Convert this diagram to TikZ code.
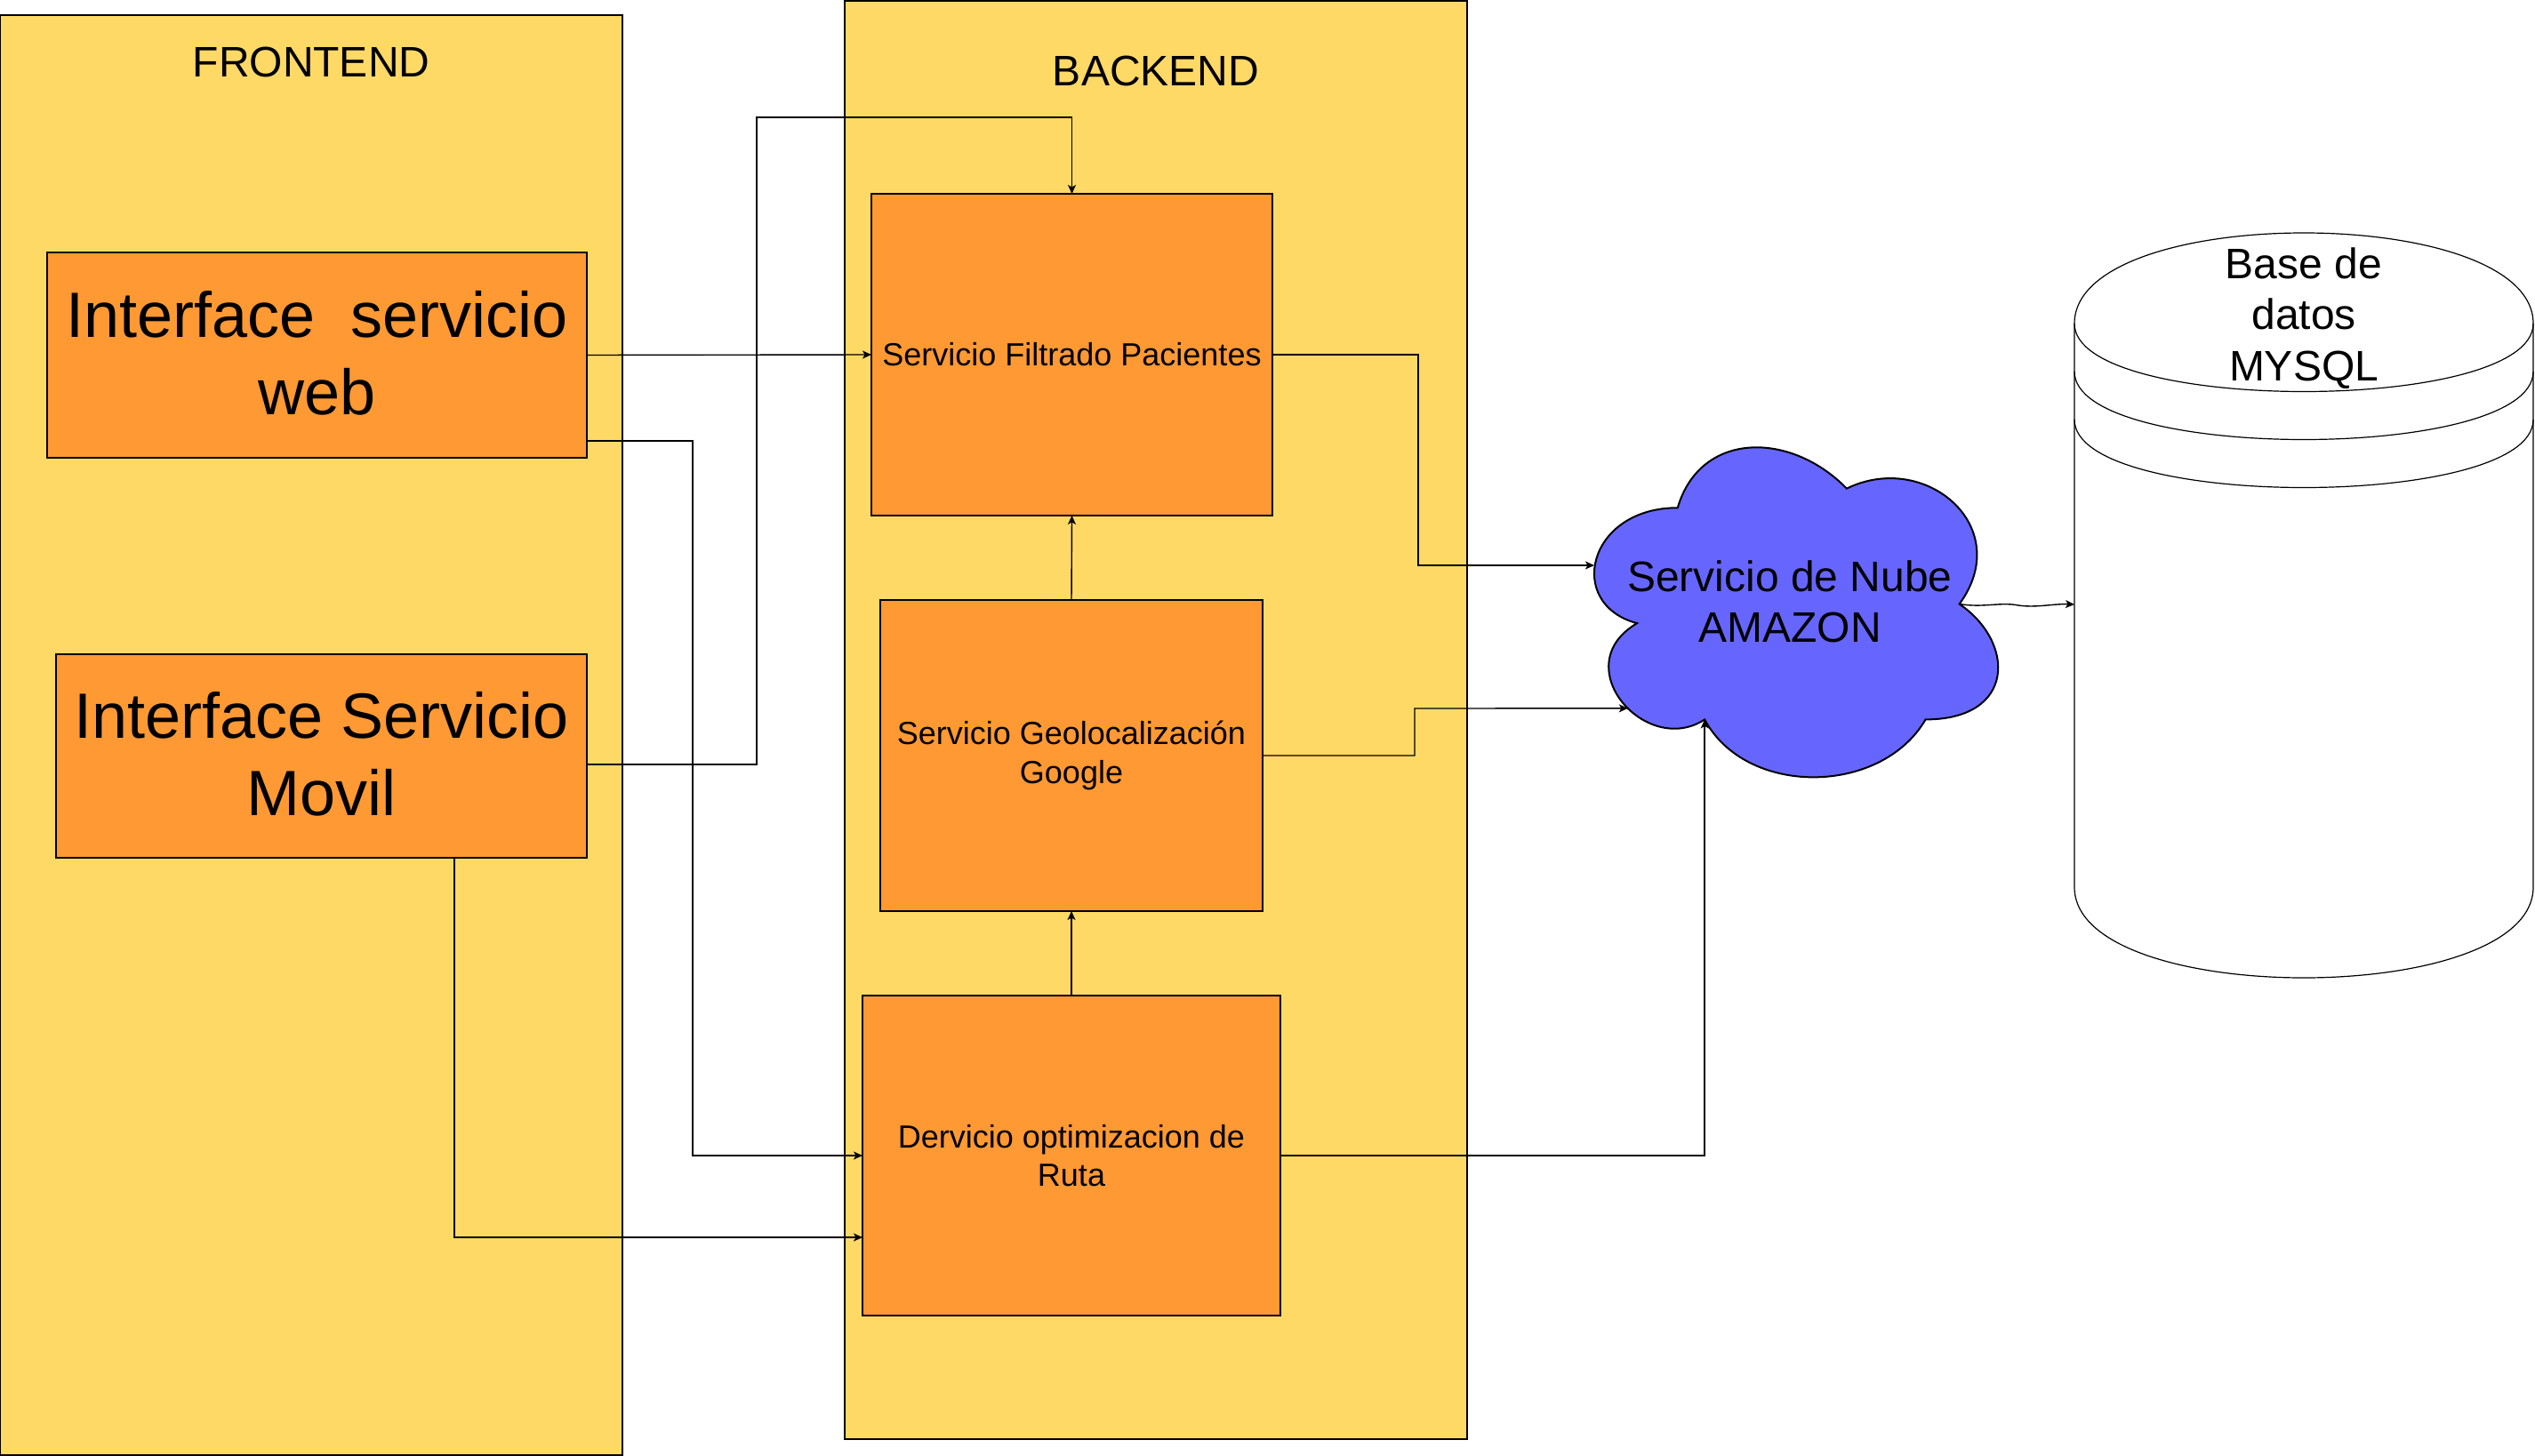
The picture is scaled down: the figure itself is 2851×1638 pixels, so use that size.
\documentclass[tikz,border=0pt]{standalone}
\usepackage{fontspec}
\setmainfont{Liberation Sans}
\usetikzlibrary{arrows.meta,calc}
\definecolor{panelY}{HTML}{FFD966}
\definecolor{boxO}{HTML}{FF9933}
\definecolor{cloudB}{HTML}{6666FF}
\begin{document}
\begin{tikzpicture}[x=1pt,y=-1pt,
  panel/.style={draw=black, line width=1.5pt, fill=panelY, inner sep=0pt, outer sep=0pt, anchor=north west},
  box/.style={draw=black, line width=1.3pt, fill=boxO, inner sep=0pt, outer sep=0pt, anchor=north west, align=center},
  arr/.style={draw=black, line width=1.4pt, -{Stealth[length=10pt,width=9pt,inset=2.5pt]}},
  fbig/.style={font=\fontsize{72}{86.4}\selectfont},
  fmid/.style={font=\fontsize{48}{57.6}\selectfont},
  fsmall/.style={font=\fontsize{36}{43.2}\selectfont},
]
\useasboundingbox (0,0) rectangle (2851,1638);
\fill[white] (0,0) rectangle (2851,1638);

% panels
\node[panel, minimum width=700pt, minimum height=1620pt] (front) at (0,17) {};
\node[panel, minimum width=700pt, minimum height=1618pt] (back) at (950,1) {};
\node[fmid] (fronttitle) at (350,70) {FRONTEND};
\node[fmid] (backtitle) at (1300,80) {BACKEND};

% frontend boxes
\node[box, fbig, minimum width=607pt, minimum height=231pt] (web) at (53,284) {\raisebox{5pt}{Interface~\ servicio}\\\raisebox{5pt}{web}};
\node[box, fbig, minimum width=597pt, minimum height=229pt] (movil) at (63,736) {\raisebox{5pt}{Interface Servicio}\\\raisebox{5pt}{Movil}};

% backend boxes
\node[box, fsmall, minimum width=451pt, minimum height=362pt] (filt) at (980,218) {Servicio Filtrado Pacientes};
\node[box, fsmall, minimum width=430pt, minimum height=350pt] (geo) at (990,675) {Servicio Geolocalización\\Google};
\node[box, fsmall, minimum width=470pt, minimum height=360pt] (ruta) at (970,1120) {Dervicio optimizacion de\\Ruta};

% cloud
\begin{scope}[shift={(1760,463)}, x=507pt, y=-433pt]
\draw[fill=cloudB, draw=black, line width=2pt]
  (0.25,0.25) .. controls (0.05,0.25) and (0,0.5) .. (0.16,0.55)
  .. controls (0,0.66) and (0.18,0.9) .. (0.31,0.8)
  .. controls (0.4,1) and (0.7,1) .. (0.8,0.8)
  .. controls (1,0.8) and (1,0.6) .. (0.875,0.5)
  .. controls (1,0.3) and (0.8,0.1) .. (0.625,0.2)
  .. controls (0.5,0.05) and (0.3,0.05) .. (0.25,0.25) -- cycle;
\coordinate (cloudR) at (0.875,0.5);
\coordinate (cloudC) at (0.31,0.8);
\coordinate (cloudB) at (0.1397,0.771);
\end{scope}
\coordinate (cloudA) at (1793,636);
\node[fmid, align=center] (cloud) at (2013,677) {Servicio de Nube\\AMAZON};

% database
\begin{scope}[shift={(2333,262)}]
\draw[fill=white, draw=black, line width=1.2pt]
  (0,102) .. controls (0,-34) and (516,-34) .. (516,102) -- (516,736)
  .. controls (516,872) and (0,872) .. (0,736) -- cycle;
\draw[line width=1.2pt] (0,102) .. controls (0,204) and (516,204) .. (516,102);
\draw[line width=1.2pt] (0,156) .. controls (0,258) and (516,258) .. (516,156);
\draw[line width=1.2pt] (0,210) .. controls (0,312) and (516,312) .. (516,210);
\coordinate (dbL) at (0,418);
\end{scope}
\node[fmid, align=center] (db) at (2591,358) {Base de\\datos\\MYSQL};

% connectors
\draw[arr] (web.east) -- (filt.west);
\draw[arr] (web.east |- 0,496) -| (779,1300) -- (ruta.west);
\draw[arr] (movil.east |- 0,860) -| (851,132) -| (filt.north);
\draw[arr] (movil.south -| 511,0) |- (ruta.west |- 0,1392);
\draw[arr] (geo.north) -- (filt.south);
\draw[arr] (ruta.north) -- (geo.south);
\draw[arr] (filt.east) -| (1595,636) -- (cloudA);
\draw[arr] (geo.east) -| (1591,797) -- (cloudB);
\draw[arr] (ruta.east) -| (cloudC);
\draw[arr] (cloudR) .. controls (2230,684) and (2250,677) .. (2270,681)
  .. controls (2290,684) and (2310,679) .. (dbL);
\end{tikzpicture}
\end{document}
